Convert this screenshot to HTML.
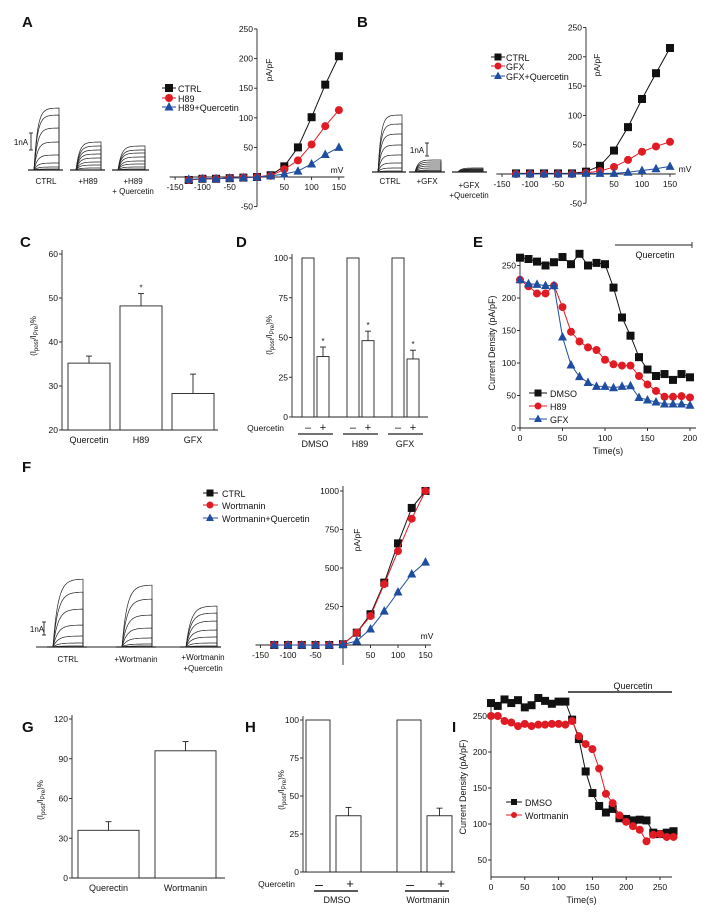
<!DOCTYPE html>
<html><head><meta charset="utf-8"><style>
html,body{margin:0;padding:0;background:#fff;}
svg{display:block;font-family:"Liberation Sans",sans-serif;}
text{fill:#111;}
</style></head><body>
<svg id="fig" width="706" height="917" viewBox="0 0 706 917" xmlns="http://www.w3.org/2000/svg">
<rect width="706" height="917" fill="#fff"/>
<g font-size="15" font-weight="bold">
<text x="22" y="27">A</text>
<text x="357" y="27">B</text>
<text x="20" y="247">C</text>
<text x="236" y="247">D</text>
<text x="473" y="247">E</text>
<text x="22" y="472">F</text>
<text x="22" y="732">G</text>
<text x="245" y="732">H</text>
<text x="452" y="732">I</text>
</g>
</svg>
<script>
// ---------- data ----------
const ivVoltA = [-125,-100,-75,-50,-25,0,25,50,75,100,125,150];
const aCtrl = [-5,-3,-3,-2,-1,0,3,18,50,101,156,204];
const aH89 = [-5,-3,-3,-2,-1,0,2,13,28,55,86,113];
const aH89Q = [-4,-3,-3,-2,-1,0,2,5,10,22,38,50];
const bCtrl = [1,1,1,1,1,4,14,40,80,128,172,215];
const bGFX = [0,0,0,0,0,2,5,12,24,38,47,55];
const bGFXQ = [0,0,0,0,0,1,1,1,3,6,9,13];
const cCats = ["Quercetin","H89","GFX"];
const cVals = [35.2,48.2,28.3];
const cErrs = [1.6,2.8,4.4];
const dGroups = ["DMSO","H89","GFX"];
const dCtrlVals = [100,100,100];
const dQVals = [38,48,36.5];
const dQErrs = [6,6,5.5];
const eTime = [0,10,20,30,40,50,60,70,80,90,100,110,120,130,140,150,160,170,180,190,200];
const eDMSO = [262,260,256,250,255,263,252,268,250,254,252,216,170,142,109,90,80,83,74,83,78];
const eH89 = [228,218,207,207,219,186,148,133,124,120,105,98,96,96,80,67,57,48,48,49,47];
const eGFX = [228,222,221,219,219,140,97,79,70,64,64,62,64,65,47,43,40,37,37,37,35];
const fVolt = [-125,-100,-75,-50,-25,0,25,50,75,100,125,150];
const fCtrl = [0,0,0,0,0,5,80,200,405,660,890,1000];
const fWort = [0,0,0,0,0,5,80,188,396,610,820,1000];
const fWortQ = [0,0,0,0,0,3,26,104,220,344,461,538];
const gCats = ["Querectin","Wortmanin"];
const gVals = [36,96];
const gErrs = [6.5,7];
const hGroups = ["DMSO","Wortmanin"];
const hCtrlVals = [100,100];
const hQVals = [37,37];
const hQErrs = [5.5,5];
const iTime = [0,10,20,30,40,50,60,70,80,90,100,110,120,130,140,150,160,170,180,190,200,210,220,230,240,250,260,270];
const iDMSO = [268,264,273,268,272,262,265,275,271,267,270,270,245,218,173,143,125,116,121,108,107,105,106,105,88,86,88,90];
const iWort = [250,250,243,241,236,239,236,238,238,239,239,238,243,222,211,204,177,142,129,112,103,97,92,76,85,86,82,82];

// ---------- helpers ----------
const NS="http://www.w3.org/2000/svg";
const svg=document.getElementById('fig');
function mk(tag,attrs,name,parent){
  const el=document.createElementNS(NS,tag);
  for(const k in attrs) el.setAttribute(k,attrs[k]);
  
  
  (parent||svg).appendChild(el);return el;
}
function line(x1,y1,x2,y2,name,w,c){return mk('line',{x1,y1,x2,y2,stroke:c||'#222','stroke-width':w||0.9},name);}
function txt(x,y,s,name,opt){opt=opt||{};const t=mk('text',{x,y,'font-size':opt.fs||9,'text-anchor':opt.a||'middle'},name);
  if(opt.rot) t.setAttribute('transform','rotate(-90 '+x+' '+y+')');
  if(opt.fill) t.setAttribute('fill',opt.fill);
  t.textContent=s;return t;}
function marker(type,x,y,color,name,s){
  s=s||4;
  if(type==='sq') return mk('rect',{x:x-s,y:y-s,width:2*s,height:2*s,fill:color},name);
  if(type==='ci') return mk('circle',{cx:x,cy:y,r:s,fill:color},name);
  return mk('polygon',{points:(x)+','+(y-s-1)+' '+(x-s-0.5)+','+(y+s-0.5)+' '+(x+s+0.5)+','+(y+s-0.5),fill:color},name);
}
function series(xs,ys,sx,sy,color,type,name,s){
  const pts=xs.map((v,i)=>sx(v)+','+sy(ys[i])).join(' ');
  mk('polyline',{points:pts,fill:'none',stroke:color,'stroke-width':1},name+'-line');
  xs.forEach((v,i)=>{marker(type,sx(v),sy(ys[i]),color,name+'-point');});
}
function ylbl(x,y){
  const t=mk('text',{x,y,'font-size':8,'text-anchor':'middle',transform:'rotate(-90 '+x+' '+y+')'},'y-axis-title');
  t.innerHTML='(I<tspan font-size="6" dy="2">post</tspan><tspan dy="-2">/I</tspan><tspan font-size="6" dy="2">Pre</tspan><tspan dy="-2">)%</tspan>';
}
function traces(x0,x1,base,amps,name,tau){
  amps.forEach(a=>{let d='M'+(x0-3)+' '+base+' L'+x0+' '+base;
    for(let x=x0;x<=x1;x+=1){const t=x-x0;d+=' L'+x+' '+(base-a*(1-Math.exp(-t/tau))).toFixed(1);}
    d+=' L'+x1+' '+base;
    mk('path',{d,fill:'none',stroke:'#222','stroke-width':0.7},name);});
  line(x0-6,base,x1+4,base,name+'-baseline',1.2);
}
const BLK='#111',RED='#e01b24',BLU='#1f4ea0';

// ---------- Panel A traces ----------
traces(34,59,170,[62,55,42,28,15,7,3,1],'trace-ctrl-a',3.5);
traces(76,101,170,[28,24,20,16,12,8,5,2],'trace-h89',3.5);
traces(118,145,170,[24,20,17,13,9,6,3,1],'trace-h89-quercetin',3.5);
line(31,133,31,150,'scale-bar-1na-a');line(29,133,33,133,'scale-tick');line(29,150,33,150,'scale-tick');
txt(21,145,'1nA','scale-label-a',{fs:8});
txt(46,184,'CTRL','trace-label-ctrl-a',{fs:8});
txt(88,184,'+H89','trace-label-h89',{fs:8});
txt(133,184,'+H89','trace-label-h89-q',{fs:8});
txt(133,194,'+ Quercetin','trace-label-h89-q2',{fs:8});

// ---------- IV plot generic ----------
function ivPlot(o){
  const sx=v=>o.x0+v*o.kx, sy=v=>o.y0-v*o.ky;
  line(sx(o.xmin),o.y0,sx(o.xmax),o.y0,'x-axis');
  line(o.x0,sy(o.ymax),o.x0,sy(o.ymin),'y-axis');
  o.xt.forEach(v=>{ if(v!==0){line(sx(v),o.y0,sx(v),o.y0+3,'x-tick');txt(sx(v),o.y0+13,String(v),'x-tick-label',{fs:8.5});} });
  o.yt.forEach(v=>{ if(v!==0){line(o.x0-3,sy(v),o.x0,sy(v),'y-tick');txt(o.x0-4,sy(v)+3,String(v),'y-tick-label',{fs:8.5,a:'end'});} });
  o.series.forEach(s=>series(o.xs,s.v,sx,sy,s.c,s.t,s.n,s.sz||4));
  txt(o.mvx,o.mvy,'mV','x-axis-unit',{fs:8.5});
  txt(o.pax,o.pay,'pA/pF','y-axis-title',{fs:8.5,rot:true});
}
ivPlot({x0:257,y0:177,kx:27.3/50,ky:29.6/50,xmin:-160,xmax:160,ymin:-50,ymax:250,
  xt:[-150,-100,-50,0,50,100,150],yt:[-50,0,50,100,150,200,250],xs:ivVoltA,
  series:[{v:aCtrl,c:BLK,t:'sq',n:'ctrl-a'},{v:aH89,c:RED,t:'ci',n:'h89'},{v:aH89Q,c:BLU,t:'tr',n:'h89-quercetin'}],
  mvx:337,mvy:173,pax:272,pay:70});
[[BLK,'sq','CTRL',88],[RED,'ci','H89',98],[BLU,'tr','H89+Quercetin',107]].forEach(l=>{
  line(162,l[3],176,l[3],'legend-line',1,l[0]);marker(l[1],169,l[3],l[0],'legend-marker',4);
  txt(178,l[3]+4,l[2],'legend-entry',{fs:9,a:'start'});});

// ---------- Panel B ----------
traces(378,402,172,[57,48,38,27,17,9,4,1],'trace-ctrl-b',3);
traces(415,441,172,[12,10,8,6,4,2,1],'trace-gfx',3);
traces(458,483,172,[4,3,2.5,2,1.5,1,0.5],'trace-gfx-quercetin',3);
line(427,143,427,156,'scale-bar-1na-b');line(425,143,429,143,'scale-tick');line(425,156,429,156,'scale-tick');
txt(417,153,'1nA','scale-label-b',{fs:8});
txt(390,184,'CTRL','trace-label-ctrl-b',{fs:8});
txt(427,184,'+GFX','trace-label-gfx',{fs:8});
txt(469,188,'+GFX','trace-label-gfx-q',{fs:8});
txt(469,198,'+Quercetin','trace-label-gfx-q2',{fs:8});
ivPlot({x0:586,y0:174,kx:28/50,ky:29.3/50,xmin:-160,xmax:160,ymin:-50,ymax:250,
  xt:[-150,-100,-50,0,50,100,150],yt:[-50,0,50,100,150,200,250],xs:ivVoltA,
  series:[{v:bCtrl,c:BLK,t:'sq',n:'ctrl-b',sz:3.5},{v:bGFX,c:RED,t:'ci',n:'gfx',sz:3},{v:bGFXQ,c:BLU,t:'tr',n:'gfx-quercetin',sz:3}],
  mvx:685,mvy:172,pax:600,pay:65});
[[BLK,'sq','CTRL',57],[RED,'ci','GFX',66],[BLU,'tr','GFX+Quercetin',76]].forEach(l=>{
  line(491,l[3],505,l[3],'legend-line',1,l[0]);marker(l[1],498,l[3],l[0],'legend-marker',3.5);
  txt(506,l[3]+4,l[2],'legend-entry',{fs:9,a:'start'});});

// ---------- Bar chart generic ----------
function barChart(o){
  const sy=v=>o.y0-(v-o.ymin)*o.ky;
  line(o.x0,sy(o.ymax)-4,o.x0,o.y0,'y-axis');
  line(o.x0,o.y0,o.xend,o.y0,'x-axis');
  o.yt.forEach(v=>{line(o.x0-3,sy(v),o.x0,sy(v),'y-tick');txt(o.x0-4,sy(v)+3,String(v),'y-tick-label',{fs:8.5,a:'end'});});
  o.bars.forEach(b=>{
    mk('rect',{x:b.x,y:sy(b.v),width:b.w,height:o.y0-sy(b.v),fill:'#fff',stroke:'#222','stroke-width':0.9},'bar');
    if(b.e){line(b.x+b.w/2,sy(b.v),b.x+b.w/2,sy(b.v+b.e),'error-bar');line(b.x+b.w/2-3,sy(b.v+b.e),b.x+b.w/2+3,sy(b.v+b.e),'error-cap');}
    if(b.star) txt(b.x+b.w/2,sy(b.v+b.e)-3,'*','significance-star',{fs:8});
    if(b.label) txt(b.x+b.w/2,o.y0+13,b.label,'x-tick-label',{fs:9});
  });
}
barChart({x0:62,y0:430,ymin:20,ymax:60,ky:176/40,xend:218,yt:[20,30,40,50,60],
  bars:cCats.map((c,i)=>({x:68+i*52,w:42,v:cVals[i],e:cErrs[i],label:c,star:i===1}))});
ylbl(36,336);
barChart({x0:292,y0:417,ymin:0,ymax:100,ky:159/100,xend:428,yt:[0,25,50,75,100],
  bars:[].concat(...dGroups.map((g,i)=>[{x:302+i*45,w:12,v:dCtrlVals[i]},{x:317+i*45,w:12,v:dQVals[i],e:dQErrs[i],star:true}]))});
ylbl(272,335);
txt(284,431,'Quercetin','quercetin-row-label',{fs:8.5,a:'end'});
dGroups.forEach((g,i)=>{const cx=315+i*45;
  txt(cx-7,431,'\u2013','minus-sign',{fs:11});txt(cx+8,431,'+','plus-sign',{fs:11});
  line(cx-17,434,cx+18,434,'group-underline',1.3);
  txt(cx,447,g,'group-label',{fs:9});});

// ---------- Time course generic ----------
function timePlot(o){
  const sx=v=>o.x0+v*o.kx, sy=v=>o.y0-(v-o.ymin)*o.ky;
  line(o.x0,o.ytop,o.x0,o.y0,'y-axis');
  line(o.x0,o.y0,o.xend,o.y0,'x-axis');
  o.xt.forEach(v=>{line(sx(v),o.y0,sx(v),o.y0+3,'x-tick');txt(sx(v),o.y0+13,String(v),'x-tick-label',{fs:8.5});});
  o.yt.forEach(v=>{line(o.x0-3,sy(v),o.x0,sy(v),'y-tick');txt(o.x0-4,sy(v)+3,String(v),'y-tick-label',{fs:8.5,a:'end'});});
  o.series.forEach(s=>series(o.xs,s.v,sx,sy,s.c,s.t,s.n,s.sz||3.5));
  txt((o.x0+o.xend)/2,o.y0+26,'Time(s)','x-axis-title',{fs:9});
  txt(o.ytx,o.yty,'Current Density (pA/pF)','y-axis-title',{fs:9,rot:true});
}
timePlot({x0:520,y0:428,ymin:0,ky:32.5/50,kx:170/200,xend:696,ytop:258,xs:eTime,
  xt:[0,50,100,150,200],yt:[0,50,100,150,200,250],
  series:[{v:eDMSO,c:BLK,t:'sq',n:'dmso-e'},{v:eH89,c:RED,t:'ci',n:'h89-e'},{v:eGFX,c:BLU,t:'tr',n:'gfx-e'}],
  ytx:495,yty:343});
line(615,245,692,245,'quercetin-bar-e',1);line(692,242,692,248,'quercetin-bar-end');
txt(655,258,'Quercetin','quercetin-label-e',{fs:9});
[[BLK,'sq','DMSO',393],[RED,'ci','H89',406],[BLU,'tr','GFX',419]].forEach(l=>{
  line(529,l[3],547,l[3],'legend-line',1,l[0]);marker(l[1],538,l[3],l[0],'legend-marker',3.5);
  txt(550,l[3]+4,l[2],'legend-entry',{fs:9,a:'start'});});

// ---------- Panel F ----------
traces(53,83,647,[68,55,38,22,11,4,1],'trace-ctrl-f',5);
traces(122,152,647,[62,48,32,19,9,3,1],'trace-wortmanin',5);
traces(186,217,647,[41,34,26,17,10,4,1],'trace-wortmanin-quercetin',5);
line(36,647,220,647,'baseline-f',0.9);
txt(37,632,'1nA','scale-label-f',{fs:8});
line(44,622,44,635,'scale-bar-1na-f');line(42,622,46,622,'scale-tick');line(42,635,46,635,'scale-tick');
txt(68,662,'CTRL','trace-label-ctrl-f',{fs:8});
txt(136,662,'+Wortmanin','trace-label-wortmanin',{fs:8});
txt(203,660,'+Wortmanin','trace-label-wort-q',{fs:8});
txt(203,671,'+Quercetin','trace-label-wort-q2',{fs:8});
(function(){
  const o={x0:343,y0:645,kx:27.5/50,ky:38.5/250};
  const sx=v=>o.x0+v*o.kx, sy=v=>o.y0-v*o.ky;
  line(sx(-150)-5,o.y0,sx(160),o.y0,'x-axis');
  line(o.x0,sy(1000)-5,o.x0,665,'y-axis');
  [-150,-100,-50,50,100,150].forEach(v=>{line(sx(v),o.y0,sx(v),o.y0+3,'x-tick');txt(sx(v),o.y0+13,String(v),'x-tick-label',{fs:8.5});});
  [250,500,750,1000].forEach(v=>{line(o.x0-3,sy(v),o.x0,sy(v),'y-tick');txt(o.x0-4,sy(v)+3,String(v),'y-tick-label',{fs:8.5,a:'end'});});
  series(fVolt,fCtrl,sx,sy,BLK,'sq','ctrl-f',3.5);
  series(fVolt,fWort,sx,sy,RED,'ci','wortmanin-f',4);
  series(fVolt,fWortQ,sx,sy,BLU,'tr','wortmanin-quercetin-f',4);
  txt(427,639,'mV','x-axis-unit',{fs:8.5});
  txt(360,540,'pA/pF','y-axis-title',{fs:8.5,rot:true});
})();
[[BLK,'sq','CTRL',493],[RED,'ci','Wortmanin',505],[BLU,'tr','Wortmanin+Quercetin',518]].forEach(l=>{
  line(203,l[3],218,l[3],'legend-line',1,l[0]);marker(l[1],210,l[3],l[0],'legend-marker',3.5);
  txt(222,l[3]+4,l[2],'legend-entry',{fs:9,a:'start'});});

// ---------- G ----------
barChart({x0:72,y0:878,ymin:0,ymax:120,ky:159/120,xend:225,yt:[0,30,60,90,120],
  bars:gCats.map((c,i)=>({x:78+i*77,w:61,v:gVals[i],e:gErrs[i],label:c}))});
ylbl(43,800);
// ---------- H ----------
barChart({x0:303,y0:872,ymin:0,ymax:100,ky:152/100,xend:455,yt:[0,25,50,75,100],
  bars:[].concat(...hGroups.map((g,i)=>[{x:306+i*91,w:24,v:hCtrlVals[i]},{x:336+i*91,w:25,v:hQVals[i],e:hQErrs[i]}]))});
ylbl(284,790);
txt(295,887,'Quercetin','quercetin-row-label-h',{fs:8.5,a:'end'});
hGroups.forEach((g,i)=>{const cx=334+i*91;
  txt(cx-15,889,'\u2013','minus-sign',{fs:14});txt(cx+16,888,'+','plus-sign',{fs:13});
  line(cx-20,891,cx+24,891,'group-underline',1.5);
  txt(cx+3,903,g,'group-label',{fs:9});});
// ---------- I ----------
timePlot({x0:491,y0:877,ymin:26.4,ky:36/50,kx:169/250,xend:672,ytop:700,xs:iTime,
  xt:[0,50,100,150,200,250],yt:[50,100,150,200,250],
  series:[{v:iDMSO,c:BLK,t:'sq',n:'dmso-i',sz:3},{v:iWort,c:RED,t:'ci',n:'wortmanin-i',sz:3.5}],
  ytx:466,yty:787});
line(568,692,672,692,'quercetin-bar-i',1.5);
txt(633,689,'Quercetin','quercetin-label-i',{fs:9});
[[BLK,'sq','DMSO',802],[RED,'ci','Wortmanin',815]].forEach(l=>{
  line(506,l[3],522,l[3],'legend-line',1,l[0]);marker(l[1],514,l[3],l[0],'legend-marker',3);
  txt(525,l[3]+4,l[2],'legend-entry',{fs:9,a:'start'});});
</script>
</body></html>
